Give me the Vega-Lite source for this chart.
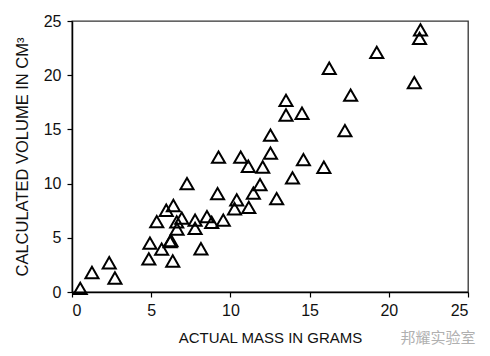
{
  "$schema": "https://vega.github.io/schema/vega-lite/v6.json",
  "width": 396,
  "height": 271,
  "autosize": {"type": "none"},
  "padding": {"left": 72, "top": 21, "right": 22, "bottom": 64},
  "background": "white",
  "config": {
    "view": {"stroke": "#333", "strokeWidth": 1.3},
    "axis": {
      "labelFont": "Liberation Sans",
      "titleFont": "Liberation Sans",
      "labelFontSize": 16,
      "titleFontSize": 16,
      "titleFontWeight": "normal",
      "labelColor": "#111",
      "titleColor": "#111",
      "domainColor": "black",
      "tickColor": "black",
      "domainWidth": 1.5,
      "tickWidth": 1.2,
      "grid": false
    }
  },
  "title": {
    "text": "邦耀实验室",
    "orient": "bottom",
    "anchor": "end",
    "font": "Noto Sans CJK SC",
    "fontSize": 15,
    "fontWeight": "normal",
    "color": "#b0b0b0",
    "offset": -14,
    "dx": 7
  },
  "data": {
    "values": [
      {"mass": 0.52, "volume": 0.34},
      {"mass": 1.26, "volume": 1.8},
      {"mass": 2.35, "volume": 2.7},
      {"mass": 2.71, "volume": 1.29},
      {"mass": 4.85, "volume": 3.06},
      {"mass": 4.92, "volume": 4.5},
      {"mass": 5.35, "volume": 6.5},
      {"mass": 5.66, "volume": 3.95},
      {"mass": 5.95, "volume": 7.54},
      {"mass": 6.19, "volume": 4.64},
      {"mass": 6.25, "volume": 4.75},
      {"mass": 6.4, "volume": 7.98},
      {"mass": 6.36, "volume": 2.86},
      {"mass": 6.61, "volume": 6.46},
      {"mass": 6.63, "volume": 5.81},
      {"mass": 6.93, "volume": 6.81},
      {"mass": 7.26, "volume": 9.99},
      {"mass": 7.77, "volume": 6.64},
      {"mass": 7.77, "volume": 5.86},
      {"mass": 8.14, "volume": 3.99},
      {"mass": 8.52, "volume": 6.96},
      {"mass": 8.82, "volume": 6.43},
      {"mass": 9.19, "volume": 9.07},
      {"mass": 9.25, "volume": 12.45},
      {"mass": 9.55, "volume": 6.64},
      {"mass": 10.26, "volume": 7.68},
      {"mass": 10.4, "volume": 8.49},
      {"mass": 10.65, "volume": 12.44},
      {"mass": 11.13, "volume": 11.6},
      {"mass": 11.16, "volume": 7.81},
      {"mass": 11.45, "volume": 9.13},
      {"mass": 11.87, "volume": 9.9},
      {"mass": 12.04, "volume": 11.53},
      {"mass": 12.53, "volume": 14.48},
      {"mass": 12.53, "volume": 12.82},
      {"mass": 12.92, "volume": 8.61},
      {"mass": 13.92, "volume": 10.52},
      {"mass": 13.51, "volume": 17.67},
      {"mass": 13.51, "volume": 16.33},
      {"mass": 14.52, "volume": 16.49},
      {"mass": 14.61, "volume": 12.22},
      {"mass": 15.9, "volume": 11.51},
      {"mass": 16.24, "volume": 20.64},
      {"mass": 17.23, "volume": 14.88},
      {"mass": 17.59, "volume": 18.17},
      {"mass": 19.24, "volume": 22.11},
      {"mass": 21.61, "volume": 19.31},
      {"mass": 21.94, "volume": 23.39},
      {"mass": 22.0, "volume": 24.19}
    ]
  },
  "mark": {"type": "point", "shape": "triangle-up", "filled": false, "stroke": "black", "strokeWidth": 2, "size": 170, "opacity": 1, "clip": false},
  "encoding": {
    "x": {
      "field": "mass", "type": "quantitative",
      "scale": {"domain": [0, 25], "nice": false},
      "axis": {"values": [0, 5, 10, 15, 20, 25], "title": "ACTUAL MASS IN GRAMS", "titleFontSize": 15, "tickSize": 5, "labelPadding": 5, "titlePadding": 12}
    },
    "y": {
      "field": "volume", "type": "quantitative",
      "scale": {"domain": [0, 25], "nice": false},
      "axis": {"values": [0, 5, 10, 15, 20, 25], "title": "CALCULATED VOLUME IN CM³", "titleFontSize": 16.5, "tickSize": 5, "labelPadding": 6, "titlePadding": 13}
    }
  }
}
